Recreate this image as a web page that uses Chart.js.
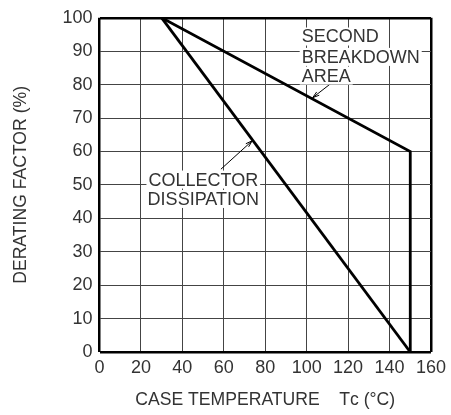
<!DOCTYPE html>
<html>
<head>
<meta charset="utf-8">
<script src="https://cdn.jsdelivr.net/npm/chart.js@4"></script>
<style>
  html, body { margin: 0; padding: 0; background: #fff; }
  #wrap { width: 451px; height: 415px; position: relative; }
</style>
</head>
<body>
<div id="wrap"><canvas id="chart"></canvas></div>
<script>
// case temperature (°C) vs derating factor (%)
const secondTemp = [30, 150, 150];
const secondFactor = [100, 60, 0];
const collectorTemp = [30, 150];
const collectorFactor = [100, 0];

const xTicks = [0, 20, 40, 60, 80, 100, 120, 140, 160];
const yTicks = [0, 10, 20, 30, 40, 50, 60, 70, 80, 90, 100];

const FONT = "'Liberation Sans', Arial, sans-serif";
const TEXT = "#333";

const toPoints = (xs, ys) => xs.map((x, i) => ({ x, y: ys[i] }));

// labels with white box + leader arrow, positioned in data units
const labelsPlugin = {
  id: "labels",
  afterDatasetsDraw(chart) {
    const { ctx, scales: { x, y } } = chart;
    const px = (v) => x.getPixelForValue(v);
    const py = (v) => y.getPixelForValue(v);

    const drawLeader = (x0, y0, x1, y1) => {
      ctx.save();
      ctx.strokeStyle = "#000";
      ctx.lineWidth = 1;
      ctx.beginPath();
      ctx.moveTo(px(x0), py(y0));
      ctx.lineTo(px(x1), py(y1));
      const a = Math.atan2(py(y1) - py(y0), px(x1) - px(x0));
      const len = 7;
      ctx.moveTo(px(x1), py(y1));
      ctx.lineTo(px(x1) - len * Math.cos(a - 0.3), py(y1) - len * Math.sin(a - 0.3));
      ctx.moveTo(px(x1), py(y1));
      ctx.lineTo(px(x1) - len * Math.cos(a + 0.3), py(y1) - len * Math.sin(a + 0.3));
      ctx.stroke();
      ctx.restore();
    };

    const drawText = (lines, xv, yvs, align) => {
      ctx.save();
      ctx.font = "18px " + FONT;
      ctx.textBaseline = "middle";
      ctx.textAlign = align;
      lines.forEach((t, i) => {
        const w = ctx.measureText(t).width;
        const cx = px(xv);
        const left = align === "center" ? cx - w / 2 : cx;
        ctx.fillStyle = "#fff";
        ctx.fillRect(left - 2, py(yvs[i]) - 9, w + 4, 18);
      });
      ctx.fillStyle = TEXT;
      lines.forEach((t, i) => ctx.fillText(t, px(xv), py(yvs[i]) + 1));
      ctx.restore();
    };

    drawLeader(112, 80.5, 102.9, 76.1);
    drawText(["SECOND", "BREAKDOWN", "AREA"], 97.6, [94.4, 88.3, 82.7], "left");

    drawLeader(58.6, 54.7, 73.7, 63.2);
    drawText(["COLLECTOR", "DISSIPATION"], 50.1, [51.6, 45.8], "center");
  }
};

const edgeWidth = (max) => (c) =>
  c.tick && (c.tick.value === 0 || c.tick.value === max) ? 2.5 : 1;
const edgeColor = (max) => (c) =>
  c.tick && (c.tick.value === 0 || c.tick.value === max) ? "#000" : "#444";

new Chart(document.getElementById("chart"), {
  type: "line",
  data: {
    datasets: [
      {
        label: "Second breakdown area",
        data: toPoints(secondTemp, secondFactor),
        borderColor: "#000",
        borderWidth: 2.8,
        pointRadius: 0,
        fill: false,
        tension: 0,
      },
      {
        label: "Collector dissipation",
        data: toPoints(collectorTemp, collectorFactor),
        borderColor: "#000",
        borderWidth: 2.8,
        pointRadius: 0,
        fill: false,
        tension: 0,
      },
    ],
  },
  options: {
    responsive: true,
    maintainAspectRatio: false,
    animation: false,
    layout: { padding: { top: 17, right: 18, left: 0, bottom: 0 } },
    plugins: {
      legend: { display: false },
      tooltip: { enabled: false },
    },
    scales: {
      x: {
        type: "linear",
        min: 0,
        max: 160,
        afterBuildTicks: (s) => { s.ticks = xTicks.map((v) => ({ value: v })); },
        afterFit: (s) => { s.height = 63; },
        ticks: { color: TEXT, font: { family: FONT, size: 18 }, padding: 5, maxRotation: 0 },
        grid: { color: edgeColor(160), lineWidth: edgeWidth(160), drawTicks: false },
        border: { display: false },
        title: {
          display: true,
          text: "CASE TEMPERATURE    Tᴄ (°C)",
          color: TEXT,
          font: { family: FONT, size: 17.6 },
          padding: { top: 0, bottom: 4 },
        },
      },
      y: {
        min: 0,
        max: 100,
        afterBuildTicks: (s) => { s.ticks = yTicks.map((v) => ({ value: v })); },
        afterFit: (s) => { s.width = 99.5; },
        ticks: { color: TEXT, font: { family: FONT, size: 18 }, padding: 7 },
        grid: { color: edgeColor(100), lineWidth: edgeWidth(100), drawTicks: false },
        border: { display: false },
        title: {
          display: true,
          text: "DERATING FACTOR (%)",
          color: TEXT,
          font: { family: FONT, size: 17.6 },
          padding: { top: 11, bottom: 0 },
        },
      },
    },
  },
  plugins: [labelsPlugin],
});
</script>
</body>
</html>
